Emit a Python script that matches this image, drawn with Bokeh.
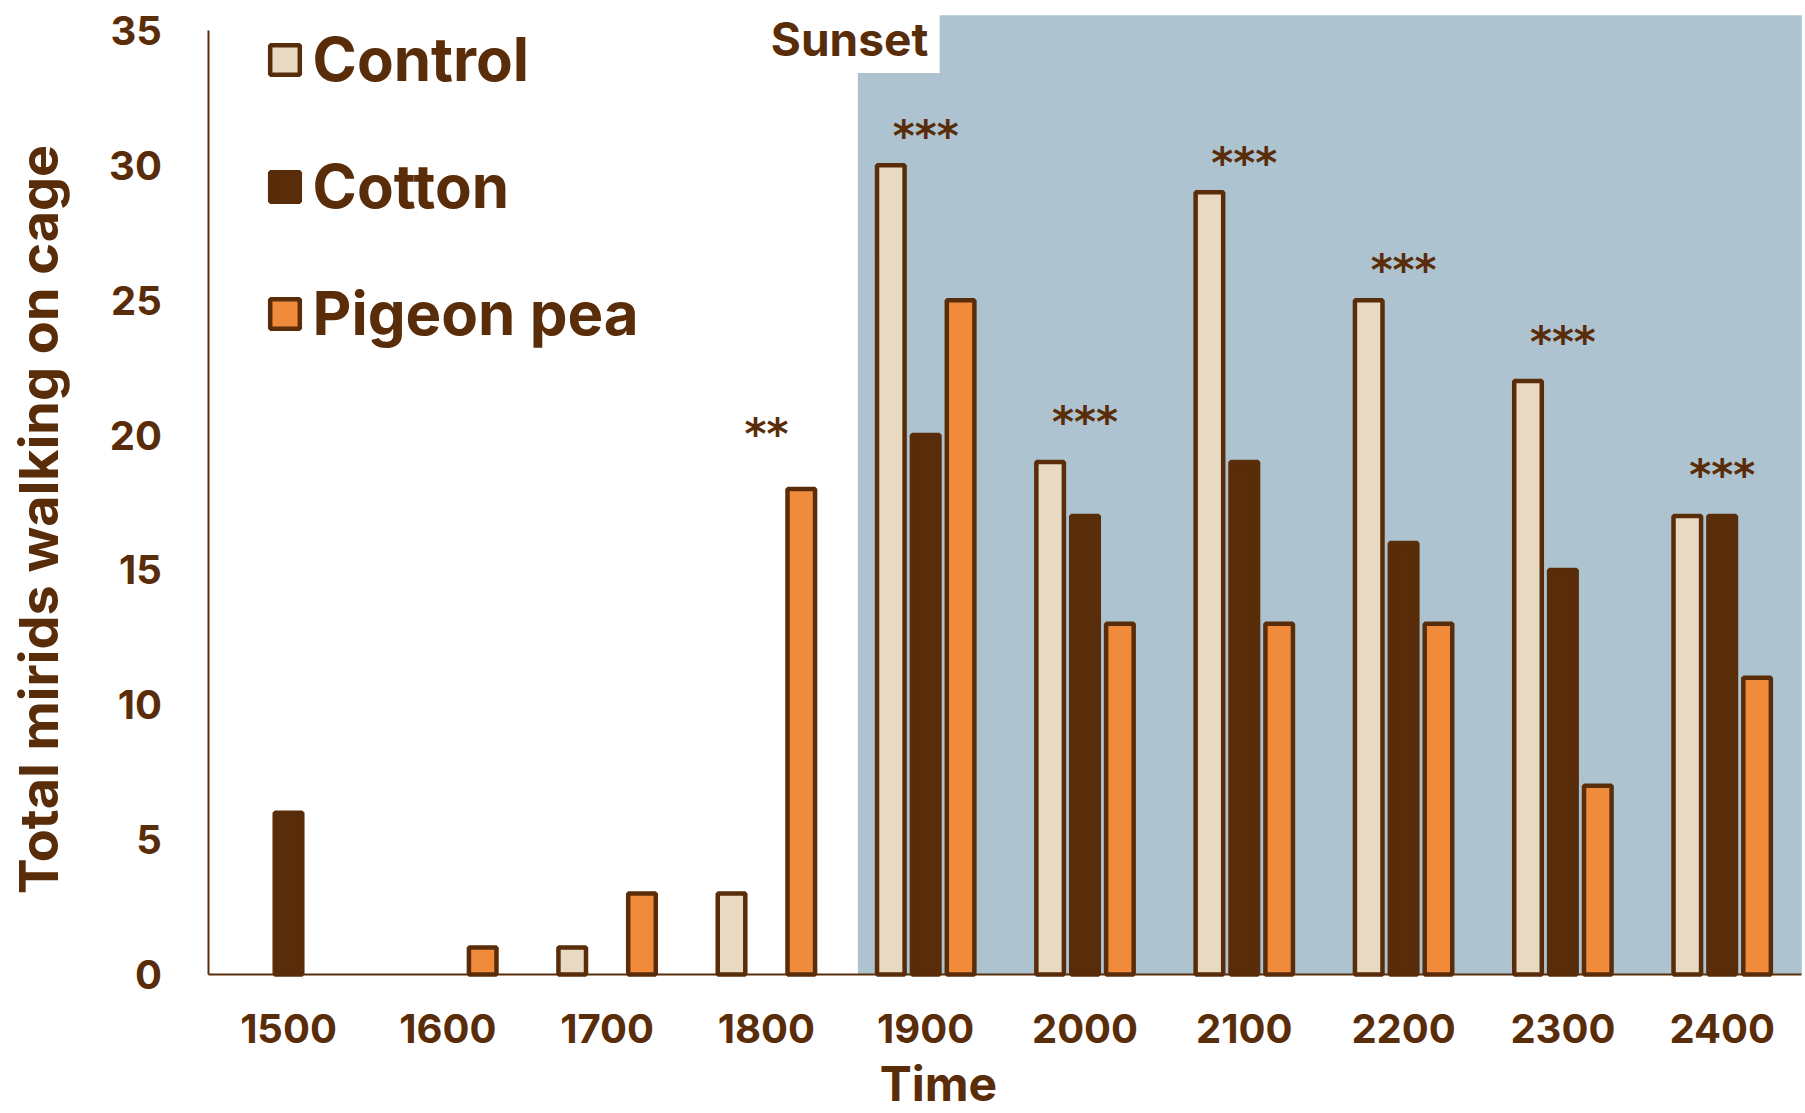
import math
from bokeh.plotting import figure
from bokeh.models import (Range1d, ColumnDataSource, FixedTicker, Legend,
                          LegendItem, BoxAnnotation, Label)
from bokeh.transform import dodge
from bokeh.core.properties import value
from bokeh.embed import file_html
from bokeh.resources import INLINE

# ---- data ----
times = ["1500", "1600", "1700", "1800", "1900", "2000", "2100", "2200", "2300", "2400"]
control = [0, 0, 1, 3, 30, 19, 29, 25, 22, 17]
cotton = [6, 0, 0, 0, 20, 17, 19, 16, 15, 17]
pigeon_pea = [0, 1, 3, 18, 25, 13, 13, 13, 7, 11]
y_ticks = [0, 5, 10, 15, 20, 25, 30, 35]

star_times = ["1800", "1900", "2000", "2100", "2200", "2300", "2400"]
star_text = ["**", "***", "***", "***", "***", "***", "***"]
star_y = [20.2, 31.26, 20.66, 30.27, 26.3, 23.6, 18.7]

# ---- style ----
FONT = "Inter"
BROWN = "#5A2D0A"
C_CONTROL = "#E8D9C2"
C_COTTON = "#5A2D0A"
C_PIGEON = "#F08B3B"
C_SHADE = "#ADC4D0"

pos = list(range(len(times)))


def nonzero_source(vals):
    keep = [i for i, v in enumerate(vals) if v > 0]
    return ColumnDataSource(dict(x=[pos[i] for i in keep], v=[vals[i] for i in keep]))


p = figure(width=1805, height=1113, x_range=Range1d(-1.808, 9.523),
           y_range=Range1d(-5.154, 36.11), output_backend="svg", toolbar_location=None,
           min_border=0, min_border_left=0, min_border_right=0, min_border_top=0,
           min_border_bottom=0)
p.outline_line_color = None
p.grid.visible = False
p.background_fill_color = "white"

# sunset shading (with white cut-out behind the "Sunset" label)
p.add_layout(BoxAnnotation(left=3.574, right=9.5, bottom=0, top=35.56, fill_color=C_SHADE,
                           fill_alpha=1, line_color=None, level="underlay"))
p.add_layout(BoxAnnotation(left=2.5, right=4.087, bottom=33.42, fill_color="white", fill_alpha=1,
                           line_color=None, level="underlay"))

W = 0.173
OFF = 0.219
LW = 4.5
r1 = p.vbar(x=dodge("x", -OFF), top="v", width=W, source=nonzero_source(control),
            fill_color=C_CONTROL, line_color=BROWN, line_width=LW)
r2 = p.vbar(x=dodge("x", 0), top="v", width=W, source=nonzero_source(cotton),
            fill_color=C_COTTON, line_color=BROWN, line_width=LW)
r3 = p.vbar(x=dodge("x", OFF), top="v", width=W, source=nonzero_source(pigeon_pea),
            fill_color=C_PIGEON, line_color=BROWN, line_width=LW)

# significance stars
p.text(x=[times.index(t) for t in star_times], y=star_y, text=star_text, text_align="center",
       text_baseline="alphabetic", y_offset=5, text_font=value("DejaVu Sans"),
       text_font_style="bold", text_font_size="42px", text_color=BROWN)

p.add_layout(Label(x=4.016, y=34.67, text="Sunset", text_align="right", text_baseline="middle",
                   text_font=FONT, text_font_style="bold", text_font_size="46px", text_color=BROWN))
p.add_layout(Label(x=4.08, y=-4.04, text="Time", text_align="center", text_baseline="middle",
                   text_font=FONT, text_font_style="bold", text_font_size="48px", text_color=BROWN))
p.add_layout(Label(x=-1.571, y=16.87, text="Total mirids walking on cage", angle=math.pi / 2,
                   text_align="center", text_baseline="middle",
                   text_font=FONT, text_font_style="bold", text_font_size="54px", text_color=BROWN))

# axes
p.xaxis.ticker = FixedTicker(ticks=pos)
p.xaxis.major_label_overrides = {i: t for i, t in zip(pos, times)}
p.xaxis.fixed_location = 0
p.xaxis.bounds = (-0.5, 9.5)
p.yaxis.ticker = FixedTicker(ticks=y_ticks)
p.yaxis.fixed_location = -0.5
p.yaxis.bounds = (0, 35)
for ax in (p.xaxis[0], p.yaxis[0]):
    ax.axis_line_color = BROWN
    ax.axis_line_width = 2
    ax.major_tick_line_color = None
    ax.minor_tick_line_color = None
    ax.major_label_text_color = BROWN
    ax.major_label_text_font = FONT
    ax.major_label_text_font_style = "bold"
    ax.major_label_text_font_size = "40px"
p.yaxis.major_label_standoff = 41
p.xaxis.major_label_standoff = 34

legend = Legend(items=[LegendItem(label="Control", renderers=[r1]),
                       LegendItem(label="Cotton", renderers=[r2]),
                       LegendItem(label="Pigeon pea", renderers=[r3])],
                location=(265.5, 763), orientation="vertical",
                glyph_width=37, glyph_height=37, label_height=74, label_standoff=10,
                spacing=53, padding=0, margin=0,
                label_text_font=FONT, label_text_font_style="bold", label_text_font_size="60px",
                label_text_color=BROWN, border_line_color=None, background_fill_alpha=0)
p.add_layout(legend)

open("out.html", "w").write(file_html(p, INLINE))
